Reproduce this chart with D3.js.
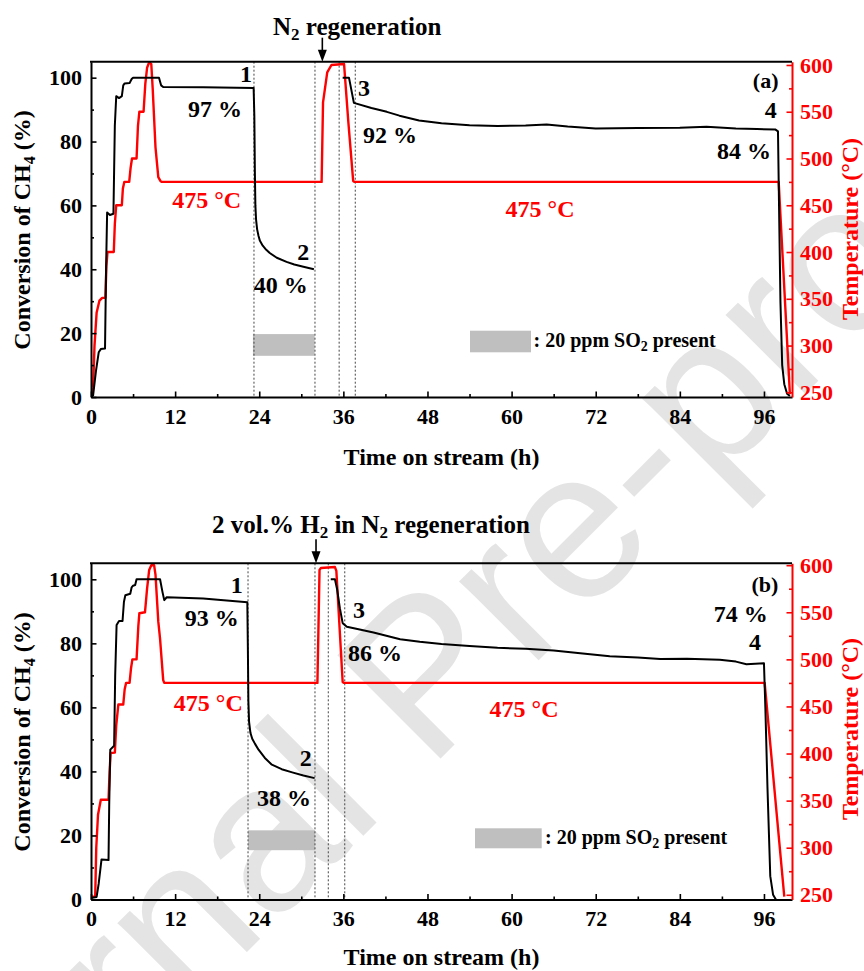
<!DOCTYPE html>
<html>
<head>
<meta charset="utf-8">
<script src="https://cdn.jsdelivr.net/npm/d3@7"></script>
<style>
  body { margin: 0; background: #fff; }
  text { font-family: "Liberation Serif", "Times New Roman", serif; font-weight: bold; }
</style>
</head>
<body>
<svg id="chart" width="864" height="971"></svg>
<script>
// ---- axis ticks ----
const timeTicks = [0, 12, 24, 36, 48, 60, 72, 84, 96];
const timeMinor = [6, 18, 30, 42, 54, 66, 78, 90];
const convTicks = [0, 20, 40, 60, 80, 100];
const convMinor = [10, 30, 50, 70, 90];
const tempTicks = [250, 300, 350, 400, 450, 500, 550, 600];
const tempMinor = [275, 325, 375, 425, 475, 525, 575];

// ---- (a) N2 regeneration run: [time (h), CH4 conversion (%)] ----
const convA = [
  [0, 0], [0.3, 0.5], [0.7, 8], [1.1, 14], [1.4, 15], [2.0, 15.2], [2.15, 40], [2.3, 57.8], [2.7, 57], [3.2, 57.4],
  [3.4, 85], [3.6, 94.2], [4.0, 93.6], [4.4, 94.2], [4.6, 97.6], [4.8, 98.2], [5.5, 98.3], [5.8, 99.6], [6.0, 100],
  [9.7, 100], [10.0, 97.6], [10.3, 97.1], [16, 97.0], [23.2, 96.8], [23.3, 88], [23.38, 70], [23.45, 60], [23.55, 55.5],
  [23.7, 52.5], [23.9, 50.4], [24.1, 48.9], [24.5, 47.4], [25.0, 46.1], [25.5, 45.1], [26.5, 43.6], [27.9, 42.3],
  [29.0, 41.5], [30.3, 40.8], [31.8, 40.0],
  [33.5, null],
  [35.9, 100], [36.8, 100], [37.5, 92.1], [40, 90.5], [42.2, 89.3], [44, 88.1], [46.8, 86.6], [50, 85.7], [54, 85.1],
  [58, 84.9], [62, 85.0], [65, 85.3], [68, 84.7], [72, 84.1], [78, 84.2], [84, 84.3], [87.8, 84.6], [92, 84.1],
  [95, 83.9], [97.6, 83.8], [98.0, 83.2], [98.15, 60], [98.35, 30], [98.6, 10], [98.9, 4], [99.3, 1], [99.7, 0.3]
];
// ---- (a) bed temperature: [time (h), T (°C)] ----
const tempA = [
  [0.1, 247], [0.3, 255], [0.5, 300], [0.8, 335], [1.2, 348], [1.6, 351], [2.05, 351], [2.2, 385], [2.35, 400],
  [3.25, 400], [3.4, 430], [3.6, 450], [4.4, 450], [4.55, 468], [4.75, 475], [5.45, 475], [5.65, 490], [5.85, 500],
  [6.5, 500], [6.7, 535], [6.9, 550], [7.5, 550], [7.75, 580], [8.0, 597], [8.3, 603], [8.6, 601], [8.8, 575],
  [9.2, 512], [9.6, 480], [9.9, 476], [10.1, 475], [32.9, 475], [33.1, 560], [33.7, 592], [34.3, 600], [36.1, 601],
  [36.7, 540], [37.4, 476], [37.6, 475], [98.1, 475], [99.7, 248]
];

// ---- (b) 2 vol.% H2 in N2 regeneration run ----
const convB = [
  [0, 0.5], [0.8, 0.8], [1.1, 5], [1.5, 12.5], [2.5, 12.3], [2.6, 30], [2.75, 46.8], [3.3, 48], [3.45, 70], [3.65, 85.7],
  [4.0, 87], [4.5, 87], [4.7, 93], [4.9, 95], [5.6, 95.5], [5.8, 97.5], [6.0, 98], [6.3, 98.2], [6.5, 100], [9.85, 100],
  [10.2, 96], [10.45, 93.5], [10.8, 94.4], [16, 94], [22.3, 92.8], [22.38, 78], [22.45, 62], [22.55, 55.5],
  [22.75, 52], [23.0, 50.2], [23.4, 48.6], [23.9, 46.8], [24.8, 44.2], [25.8, 42.1], [27.2, 40.7], [28.7, 39.7],
  [30.3, 38.7], [31.9, 37.9],
  [33, null],
  [34.2, 100], [34.8, 100], [35.1, 97], [35.5, 91], [35.9, 86.3], [36.5, 85.2], [38, 84.5], [40.3, 83.4], [44.1, 81.3],
  [46.9, 80.5], [50, 79.8], [54, 79.2], [58, 78.6], [62, 78.3], [66, 77.8], [69.8, 76.9], [74, 76.0], [78, 75.6],
  [81.2, 75.1], [85, 75.2], [89.7, 74.9], [92, 74.3], [93.5, 73.5], [96.0, 73.8], [96.2, 60], [96.5, 35], [96.9, 7.3],
  [97.3, 1.5], [97.7, 0]
];
const tempB = [
  [0, 248], [0.6, 248], [0.75, 300], [1.0, 335], [1.4, 351], [2.5, 351], [2.65, 380], [2.8, 400.6], [3.4, 401],
  [3.6, 430], [3.9, 452], [4.6, 452], [4.8, 468], [5.0, 475], [5.5, 475], [5.7, 490], [5.9, 500], [6.5, 500],
  [6.75, 535], [6.9, 549], [7.7, 550], [8.0, 575], [8.3, 595], [8.6, 600], [9.0, 600], [9.2, 590], [9.6, 540],
  [9.85, 522], [10.3, 478], [10.45, 475], [32.3, 475], [32.6, 595], [32.8, 597], [34.8, 598], [35.0, 594],
  [35.9, 476], [36.1, 475], [96.1, 475], [98.9, 248]
];

// event boundaries (h): SO2 on, SO2 off / regeneration start, regeneration end, back to 475 °C
const eventsA = [23.25, 31.95, 35.4, 37.7];
const eventsB = [22.4, 31.95, 33.85, 36.2];
// SO2 feed windows (h)
const so2A = [23.1, 31.9];
const so2B = [22.4, 31.95];
// points 1-4 where conversion is reported (h)
const keyA = [23.2, 31.8, 37.5, 97.6];
const keyB = [22.3, 31.9, 35.9, 96.0];

// ---- layout ----
const svg = d3.select("#chart");
const LEFT = 91, RIGHT = 792;
const x = d3.scaleLinear().domain([0, 100]).range([LEFT, RIGHT]);
const RED = "#ff0000";

function valueAt(series, t) {
  const p = series.find(d => d[0] === t);
  return p ? p[1] : NaN;
}
const pct = v => `${Math.round(v)} %`;
const degC = v => `${Math.round(v)} °C`;

// faint diagonal watermark across the page
svg.append("text")
  .attr("transform", "translate(474,725) rotate(-45)")
  .attr("text-anchor", "middle")
  .style("font-family", "'Liberation Sans', Arial, sans-serif")
  .style("font-weight", "normal")
  .style("font-size", "212px")
  .attr("fill", "#e4e4e4")
  .text("Journal Pre-proof");

const panels = [
  {
    key: "a", top: 61.7, bottom: 397, conv: convA, temp: tempA, tempDomain: [245, 603.5],
    events: eventsA, so2: so2A, so2Band: [12.9, 19.7], keys: keyA, arrowT: 33.0,
    title: [["N", 25, 0], ["2", 17, 5], [" regeneration", 25, -5]], titleX: 273, titleY: 35,
    numPos: [[246, 81.7], [303.3, 260], [364, 96], [770.7, 118.3]],
    pctPos: [[215, 117], [280.7, 292.7], [390, 143.3], [744, 159.3]],
    tempLab: [[206.7, 208], [540, 217]],
    tag: "(a)", tagPos: [765.7, 88.3],
    legend: { x0: 470, x1: 531, y0: 330.7, y1: 352.3, tx: 533.5, ty: 347.3 },
    xTitleY: 465, yTitleY: 230, rTitleY: 229
  },
  {
    key: "b", top: 563.3, bottom: 899.5, conv: convB, temp: tempB, tempDomain: [245, 602],
    events: eventsB, so2: so2B, so2Band: [15.4, 21.6], keys: keyB, arrowT: 32.1,
    title: [["2 vol.% H", 25, 0], ["2", 17, 5], [" in N", 25, -5], ["2", 17, 5], [" regeneration", 25, -5]],
    titleX: 212, titleY: 533.3,
    numPos: [[236.7, 593.3], [305.7, 765.7], [359, 618.3], [755, 650]],
    pctPos: [[211.7, 626], [284, 806], [375, 661], [740.7, 621.7]],
    tempLab: [[208.3, 710.7], [524, 717]],
    tag: "(b)", tagPos: [765, 591.7],
    legend: { x0: 475, x1: 541.7, y0: 828.3, y1: 848.3, tx: 545, ty: 844 },
    xTitleY: 965, yTitleY: 732, rTitleY: 729
  }
];

panels.forEach(p => {
  const g = svg.append("g").attr("class", "panel-" + p.key);
  const y = d3.scaleLinear().domain([0, 105]).range([p.bottom, p.top]);
  const yT = d3.scaleLinear().domain(p.tempDomain).range([p.bottom, p.top]);

  const clipId = "clip-" + p.key;
  g.append("clipPath").attr("id", clipId)
    .append("rect").attr("x", LEFT).attr("y", p.top).attr("width", RIGHT - LEFT).attr("height", p.bottom - p.top);

  // SO2 feed window
  g.append("rect")
    .attr("x", x(p.so2[0])).attr("width", x(p.so2[1]) - x(p.so2[0]))
    .attr("y", y(p.so2Band[1])).attr("height", y(p.so2Band[0]) - y(p.so2Band[1]))
    .attr("fill", "#bfbfbf");

  // event markers
  g.selectAll("line.event").data(p.events).join("line")
    .attr("class", "event")
    .attr("x1", d => x(d)).attr("x2", d => x(d))
    .attr("y1", p.top).attr("y2", p.bottom)
    .attr("stroke", "#444").attr("stroke-width", 1).attr("stroke-dasharray", "2,2");

  const plot = g.append("g").attr("clip-path", `url(#${clipId})`);
  const lineT = d3.line().x(d => x(d[0])).y(d => yT(d[1]));
  const lineC = d3.line().defined(d => d[1] != null).x(d => x(d[0])).y(d => y(d[1]));

  plot.append("path").datum(p.temp).attr("d", lineT)
    .attr("fill", "none").attr("stroke", RED).attr("stroke-width", 2.4).attr("stroke-linejoin", "round");
  plot.append("path").datum(p.conv).attr("d", lineC)
    .attr("fill", "none").attr("stroke", "#000").attr("stroke-width", 2).attr("stroke-linejoin", "round");

  // axes
  const axB = g.append("g").attr("transform", `translate(0,${p.bottom})`)
    .call(d3.axisBottom(x).tickValues(timeTicks).tickSizeInner(-5.5).tickSizeOuter(0).tickPadding(11));
  g.append("g").attr("transform", `translate(0,${p.bottom})`)
    .call(d3.axisBottom(x).tickValues(timeMinor).tickSizeInner(-3).tickSizeOuter(0).tickFormat(""))
    .select(".domain").remove();
  const axL = g.append("g").attr("transform", `translate(${LEFT},0)`)
    .call(d3.axisLeft(y).tickValues(convTicks).tickSizeInner(-5.5).tickSizeOuter(0).tickPadding(9));
  g.append("g").attr("transform", `translate(${LEFT},0)`)
    .call(d3.axisLeft(y).tickValues(convMinor).tickSizeInner(-3).tickSizeOuter(0).tickFormat(""))
    .select(".domain").remove();
  const axR = g.append("g").attr("transform", `translate(${RIGHT},0)`)
    .call(d3.axisRight(yT).tickValues(tempTicks).tickSizeInner(-5.5).tickSizeOuter(0).tickPadding(8));
  const axRm = g.append("g").attr("transform", `translate(${RIGHT},0)`)
    .call(d3.axisRight(yT).tickValues(tempMinor).tickSizeInner(-3).tickSizeOuter(0).tickFormat(""));
  axRm.select(".domain").remove();

  [axB, axL].forEach(a => {
    a.select(".domain").attr("stroke", "#000").attr("stroke-width", 2);
    a.selectAll(".tick line").attr("stroke", "#000");
    a.selectAll(".tick text").attr("fill", "#000").style("font-size", "22px")
      .style("font-family", "'Liberation Serif', serif").style("font-weight", "bold");
  });
  g.selectAll(".tick line").attr("stroke-width", 1.6);
  axR.select(".domain").attr("stroke", RED).attr("stroke-width", 2);
  axR.selectAll(".tick line").attr("stroke", RED);
  axRm.selectAll(".tick line").attr("stroke", RED);
  axR.selectAll(".tick text").attr("fill", RED).style("font-size", "22px")
    .style("font-family", "'Liberation Serif', serif").style("font-weight", "bold");

  // top frame
  g.append("line").attr("x1", LEFT - 1).attr("x2", RIGHT).attr("y1", p.top).attr("y2", p.top)
    .attr("stroke", "#000").attr("stroke-width", 2);

  // regeneration arrow and heading
  const ax = x(p.arrowT);
  g.append("line").attr("x1", ax).attr("x2", ax).attr("y1", p.top - 24).attr("y2", p.top - 10)
    .attr("stroke", "#000").attr("stroke-width", 1.6);
  g.append("path").attr("d", `M${ax - 4.5},${p.top - 12} L${ax + 4.5},${p.top - 12} L${ax},${p.top} Z`).attr("fill", "#000");
  const tt = g.append("text").attr("x", p.titleX).attr("y", p.titleY);
  p.title.forEach(([s, fs, dy]) => tt.append("tspan").attr("dy", dy).style("font-size", fs + "px").text(s));

  // point numbers and reported conversions
  p.numPos.forEach(([lx, ly], i) => {
    g.append("text").attr("x", lx).attr("y", ly).attr("text-anchor", "middle")
      .style("font-size", "24px").text(String(i + 1));
  });
  p.pctPos.forEach(([lx, ly], i) => {
    g.append("text").attr("x", lx).attr("y", ly).attr("text-anchor", "middle")
      .style("font-size", "24px").text(pct(valueAt(p.conv, p.keys[i])));
  });
  const plateau = valueAt(p.temp, p.temp[p.temp.length - 2][0]);
  p.tempLab.forEach(([lx, ly]) => {
    g.append("text").attr("x", lx).attr("y", ly).attr("text-anchor", "middle")
      .attr("fill", RED).style("font-size", "24px").text(degC(plateau));
  });
  g.append("text").attr("x", p.tagPos[0]).attr("y", p.tagPos[1]).attr("text-anchor", "middle")
    .style("font-size", "22px").text(p.tag);

  // SO2 legend
  const L = p.legend;
  g.append("rect").attr("x", L.x0).attr("y", L.y0).attr("width", L.x1 - L.x0).attr("height", L.y1 - L.y0)
    .attr("fill", "#bfbfbf");
  const lt = g.append("text").attr("x", L.tx).attr("y", L.ty).style("font-size", "20px");
  lt.append("tspan").text(": 20 ppm SO");
  lt.append("tspan").attr("dy", 4).style("font-size", "14px").text("2");
  lt.append("tspan").attr("dy", -4).text(" present");

  // axis titles
  g.append("text").attr("x", (LEFT + RIGHT) / 2).attr("y", p.xTitleY).attr("text-anchor", "middle")
    .style("font-size", "24px").text("Time on stream (h)");
  const yt = g.append("text").attr("transform", `translate(30,${p.yTitleY}) rotate(-90)`)
    .attr("text-anchor", "middle").style("font-size", "24px");
  yt.append("tspan").text("Conversion of CH");
  yt.append("tspan").attr("dy", 5).style("font-size", "16px").text("4");
  yt.append("tspan").attr("dy", -5).text(" (%)");
  g.append("text").attr("transform", `translate(858,${p.rTitleY}) rotate(-90)`)
    .attr("text-anchor", "middle").attr("fill", RED).style("font-size", "24px").text("Temperature (°C)");
});
</script>
</body>
</html>
